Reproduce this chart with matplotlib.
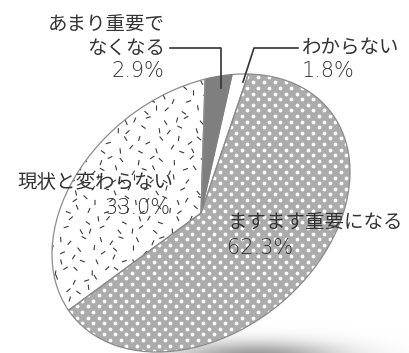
import numpy as np
import matplotlib
matplotlib.use('Agg')
import matplotlib.pyplot as plt
from matplotlib.transforms import Affine2D
from matplotlib.collections import LineCollection
from matplotlib.patches import PathPatch

plt.rcParams['font.family'] = ['Noto Sans CJK JP', 'DejaVu Sans']

# データ
labels = ['わからない', 'あまり重要で\nなくなる', '現状と変わらない', 'ますます重要になる']
values = [1.8, 2.9, 33.0, 62.3]
colors = ['white', '#7f7f7f', 'white', '#ababab']

fig = plt.figure(figsize=(4.1, 3.53), dpi=100)
ax = fig.add_axes([0, 0, 1, 1])

wedges, _ = ax.pie(values, colors=colors, startangle=41.4, counterclock=True,
                   wedgeprops=dict(edgecolor='none', linewidth=0))

# 円を傾けた楕円にする
cx, cy = 201, 213
a, b = 164.5, 120.3
t = np.radians(38.4)
c, s = np.cos(t), np.sin(t)
M = np.array([[a * c, -b * s, cx],
              [-a * s, -b * c, cy],
              [0, 0, 1]])
tr = Affine2D(M) + ax.transData
for w in wedges:
    w.set_transform(tr)
    w.set_zorder(2)

# 影
xx, yy = np.meshgrid(np.arange(150, 410), np.arange(300, 354))
d = ((xx - 255) / 95.0) ** 2 + ((yy - 356) / 17.0) ** 2
img = np.ones((yy.shape[0], yy.shape[1], 4))
img[..., :3] = 0.55
img[..., 3] = np.exp(-d * 1.3) * 0.9
ax.imshow(img, extent=(150, 410, 354, 300), zorder=1, interpolation='bilinear')

# ドット模様 (ますます重要になる)
gx, gy = np.meshgrid(np.arange(0, 420, 11.0), np.arange(60, 360, 5.6))
gx = gx + (np.arange(gx.shape[0])[:, None] % 2) * 5.5
dots = ax.scatter(gx.ravel(), gy.ravel(), s=7.5, c='white', linewidths=0, zorder=3)
dots.set_clip_path(wedges[3])

# 短い線の模様 (現状と変わらない)
hx, hy = np.meshgrid(np.arange(20, 240, 13.0), np.arange(60, 330, 10.0))
hx = hx + (np.arange(hx.shape[0])[:, None] % 2) * 6.5
ii, jj = np.meshgrid(np.arange(hx.shape[1]), np.arange(hx.shape[0]))
ang = np.radians((ii * 47 + jj * 71) % 150 + 15)
hx = hx + 3 * np.sin(ii * 1.7 + jj * 2.3)
hy = hy + 3 * np.cos(ii * 2.1 + jj * 1.3)
L = 2.6
segs = np.stack([np.stack([hx - L * np.cos(ang), hy - L * np.sin(ang)], -1),
                 np.stack([hx + L * np.cos(ang), hy + L * np.sin(ang)], -1)], 2)
segs = segs.reshape(-1, 2, 2)
lc = LineCollection(segs, colors='#3a3a3a', linewidths=0.8, zorder=3)
ax.add_collection(lc)
lc.set_clip_path(wedges[2])

# 輪郭
for i, w in enumerate(wedges):
    ec = '#7f7f7f' if i == 1 else '#8c8c8c'
    ax.add_patch(PathPatch(w.get_path(), fill=False, edgecolor=ec,
                           linewidth=0.9, zorder=4, transform=tr))

# 引き出し線
ax.plot([170, 221, 221], [48, 48, 88], color='#333333', lw=1.2, zorder=5)
ax.plot([298, 254, 243], [48, 48, 82], color='#333333', lw=1.2, zorder=5)

txt = dict(fontsize=14, color='#333333', va='center', zorder=6)
num = dict(fontsize=15, color='#333333', va='center', zorder=6,
           family=['DejaVu Sans'], fontweight='light')
ax.text(165, 25, 'あまり重要で', ha='right', **txt)
ax.text(165, 48, 'なくなる', ha='right', **txt)
ax.text(164, 71, '2.9%', ha='right', **num)
ax.text(302, 48, 'わからない', ha='left', **txt)
ax.text(302, 71, '1.8%', ha='left', **num)
ax.text(173, 183, '現状と変わらない', ha='right', **txt)
ax.text(170, 208, '33.0%', ha='right', **num)
ax.text(227, 223, 'ますます重要になる', ha='left', **txt)
ax.text(227, 248, '62.3%', ha='left', **num)

ax.set_xlim(0, 410)
ax.set_ylim(353, 0)
ax.set_aspect('auto')
ax.axis('off')

fig.savefig('out.png', dpi=100)
